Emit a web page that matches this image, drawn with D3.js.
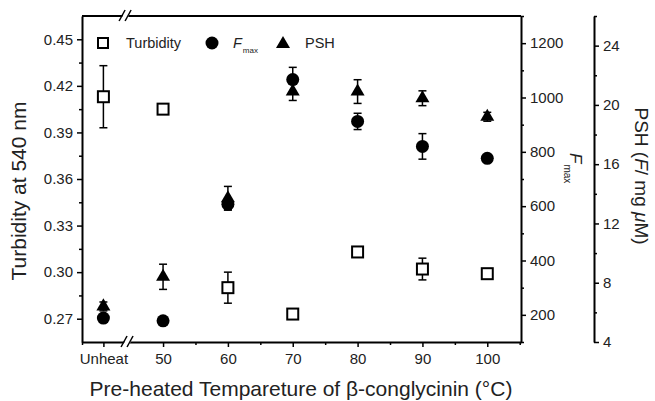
<!DOCTYPE html>
<html><head><meta charset="utf-8">
<script src="https://cdn.jsdelivr.net/npm/d3@7"></script>
<style>body{margin:0;background:#fff}svg{display:block;font-family:"Liberation Sans",Arial,sans-serif}</style>
</head><body>
<svg id="c" width="655" height="401"></svg>
<script>
const categories = ["Unheat","50","60","70","80","90","100"];
const xPositions = [40.8, 50, 60, 70, 80, 90, 100];
const turbidity = [0.413, 0.405, 0.290, 0.273, 0.313, 0.302, 0.299];
const turbidityErr = [0.020, 0.002, 0.010, 0.002, 0.003, 0.007, 0.002];
const fmax = [188, 178, 607, 1066, 912, 820, 776];
const fmaxErr = [10, 8, 20, 45, 30, 47, 12];
const psh = [6.4, 8.4, 13.7, 20.9, 20.9, 20.45, 19.2];
const pshErr = [0.3, 0.85, 0.8, 0.6, 0.8, 0.5, 0.3];
const leftTicks = [0.27, 0.30, 0.33, 0.36, 0.39, 0.42, 0.45];
const fmaxTicks = [200, 400, 600, 800, 1000, 1200];
const pshTicks = [4, 8, 12, 16, 20, 24];

const svg = d3.select("#c");
const L = 82, R = 521, T = 16, B = 342, PX = 594;
const x = d3.scaleLinear().domain([37.5, 105.2]).range([L, R]);
const yT = d3.scaleLinear().domain([0.255, 0.465]).range([B, T]);
const yF = d3.scaleLinear().domain([100, 1300]).range([B, T]);
const yP = d3.scaleLinear().domain([4, 26]).range([B, T]);

function styleAxis(g, fs) {
  g.selectAll("path.domain").attr("stroke", "#000").attr("stroke-width", 2);
  g.selectAll(".tick line").attr("stroke", "#000").attr("stroke-width", 1.5);
  g.selectAll(".tick text").attr("font-size", fs).attr("fill", "#222")
    .attr("font-family", "Liberation Sans, Arial, sans-serif");
}
function minor(g) { g.select(".domain").remove(); g.selectAll("line").attr("stroke", "#000").attr("stroke-width", 1.5); }

// top line
svg.append("line").attr("x1", L).attr("x2", R).attr("y1", T).attr("y2", T)
  .attr("stroke", "#000").attr("stroke-width", 2);

// left axis
const gl = svg.append("g").attr("transform", `translate(${L},0)`)
  .call(d3.axisLeft(yT).tickValues(leftTicks).tickFormat(d3.format(".2f")).tickSize(5).tickSizeOuter(0).tickPadding(4));
styleAxis(gl, 15);
svg.append("g").attr("transform", `translate(${L},0)`)
  .call(d3.axisLeft(yT).tickValues(d3.range(0.285, 0.46, 0.03)).tickFormat("").tickSize(3).tickSizeOuter(0)).call(minor);

// right Fmax axis
const gr = svg.append("g").attr("transform", `translate(${R},0)`)
  .call(d3.axisRight(yF).tickValues(fmaxTicks).tickFormat(d3.format("d")).tickSize(5).tickSizeOuter(0).tickPadding(4));
styleAxis(gr, 15);
svg.append("g").attr("transform", `translate(${R},0)`)
  .call(d3.axisRight(yF).tickValues([100, 300, 500, 700, 900, 1100, 1300]).tickFormat("").tickSize(3).tickSizeOuter(0)).call(minor);

// PSH axis
const gp = svg.append("g").attr("transform", `translate(${PX},0)`)
  .call(d3.axisRight(yP).tickValues(pshTicks).tickFormat(d3.format("d")).tickSize(5).tickSizeOuter(0).tickPadding(4));
styleAxis(gp, 15);
svg.append("g").attr("transform", `translate(${PX},0)`)
  .call(d3.axisRight(yP).tickValues([6, 10, 14, 18, 22, 26]).tickFormat("").tickSize(3).tickSizeOuter(0)).call(minor);

// bottom axis
const gb = svg.append("g").attr("transform", `translate(0,${B})`)
  .call(d3.axisBottom(x).tickValues(xPositions).tickFormat((d, i) => categories[i]).tickSize(5).tickSizeOuter(0).tickPadding(6));
styleAxis(gb, 15);
svg.append("g").attr("transform", `translate(0,${B})`)
  .call(d3.axisBottom(x).tickValues([37.5, 55, 65, 75, 85, 95, 105]).tickFormat("").tickSize(3).tickSizeOuter(0)).call(minor);

// axis breaks
function brk(cx, cy) {
  const g = svg.append("g").attr("transform", `translate(${cx},${cy})`);
  g.append("polygon").attr("points", "-6,5 -1,-5 5,-5 0,5").attr("fill", "#fff");
  g.append("line").attr("x1", -7).attr("y1", 5).attr("x2", -1).attr("y2", -6).attr("stroke", "#000").attr("stroke-width", 1.5);
  g.append("line").attr("x1", -1).attr("y1", 5).attr("x2", 5).attr("y2", -6).attr("stroke", "#000").attr("stroke-width", 1.5);
}
brk(x(44.6), B);
brk(x(44.3), T);

// error bars
function errBars(vals, errs, y) {
  const g = svg.append("g").attr("stroke", "#000").attr("stroke-width", 1.5);
  vals.forEach((v, i) => {
    const cx = x(xPositions[i]), y1 = y(v + errs[i]), y2 = y(v - errs[i]);
    g.append("line").attr("x1", cx).attr("x2", cx).attr("y1", y1).attr("y2", y2);
    g.append("line").attr("x1", cx - 4).attr("x2", cx + 4).attr("y1", y1).attr("y2", y1);
    g.append("line").attr("x1", cx - 4).attr("x2", cx + 4).attr("y1", y2).attr("y2", y2);
  });
}
errBars(turbidity, turbidityErr, yT);
errBars(fmax, fmaxErr, yF);
errBars(psh, pshErr, yP);

// markers
svg.append("g").selectAll("rect").data(turbidity).join("rect")
  .attr("x", (d, i) => x(xPositions[i]) - 5.5).attr("y", d => yT(d) - 5.5)
  .attr("width", 11).attr("height", 11).attr("fill", "#fff").attr("stroke", "#000").attr("stroke-width", 2);
svg.append("g").selectAll("circle").data(fmax).join("circle")
  .attr("cx", (d, i) => x(xPositions[i])).attr("cy", d => yF(d)).attr("r", 6.5).attr("fill", "#000");
const tri = d3.symbol().type(d3.symbolTriangle).size(85);
svg.append("g").selectAll("path").data(psh).join("path")
  .attr("d", tri).attr("transform", (d, i) => `translate(${x(xPositions[i])},${yP(d)})`).attr("fill", "#000");

// legend
const lg = svg.append("g").attr("font-size", 14.5).attr("fill", "#222");
lg.append("rect").attr("x", 98).attr("y", 38).attr("width", 10).attr("height", 10)
  .attr("fill", "#fff").attr("stroke", "#000").attr("stroke-width", 2);
lg.append("text").attr("x", 126).attr("y", 48).text("Turbidity");
lg.append("circle").attr("cx", 212).attr("cy", 43).attr("r", 6.5).attr("fill", "#000");
const lf = lg.append("text").attr("x", 233).attr("y", 48);
lf.append("tspan").attr("font-style", "italic").text("F");
lf.append("tspan").attr("font-size", 8).attr("dy", 5).attr("dx", 1).text("max");
lg.append("path").attr("d", tri).attr("transform", "translate(283,44)").attr("fill", "#000");
lg.append("text").attr("x", 305).attr("y", 48).text("PSH");

// axis titles
svg.append("text").attr("transform", "translate(26,191) rotate(-90)").attr("text-anchor", "middle")
  .attr("font-size", 21).attr("fill", "#222").text("Turbidity at 540 nm");
const ft = svg.append("text").attr("transform", "translate(570,153) rotate(90)").attr("text-anchor", "start")
  .attr("font-size", 17).attr("fill", "#222");
ft.append("tspan").attr("font-style", "italic").text("F");
ft.append("tspan").attr("font-size", 10).attr("dy", 6).attr("dx", 1).text("max");
const pt = svg.append("text").attr("transform", "translate(635,176) rotate(90)").attr("text-anchor", "middle")
  .attr("font-size", 19).attr("fill", "#222");
pt.append("tspan").text("PSH (");
pt.append("tspan").attr("font-style", "italic").text("F");
pt.append("tspan").text("/ mg ");
pt.append("tspan").attr("font-style", "italic").text("μ");
pt.append("tspan").text("M)");
svg.append("text").attr("x", 301).attr("y", 396).attr("text-anchor", "middle")
  .attr("font-size", 21).attr("fill", "#222").text("Pre-heated Tempareture of β-conglycinin (°C)");
</script>
</body></html>
